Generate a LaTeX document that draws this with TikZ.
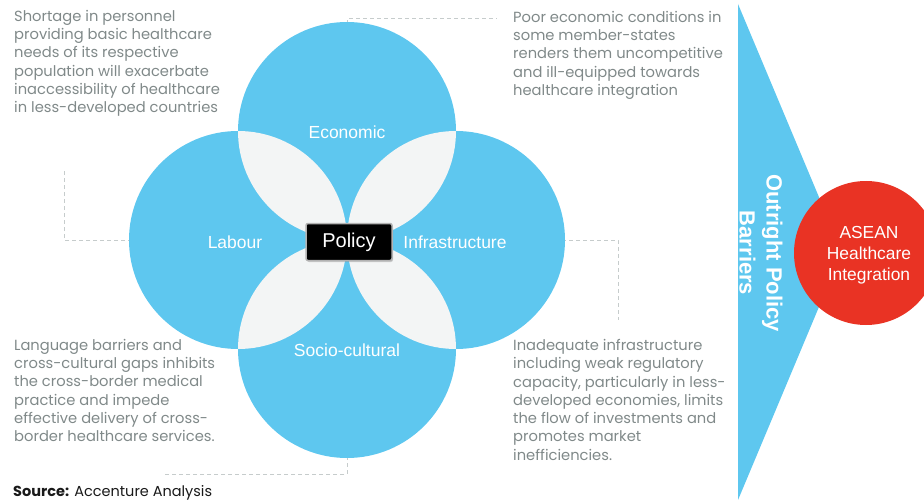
\documentclass[tikz,border=0pt]{standalone}
\usepackage{fontspec}
\setmainfont{Liberation Sans}
\newfontfamily\bodyfont{Poppins}
\usetikzlibrary{shadows}

\definecolor{petal}{RGB}{94,199,239}
\definecolor{lens}{RGB}{243,245,245}
\definecolor{goalred}{RGB}{233,51,36}
\definecolor{notegray}{RGB}{128,137,137}
\definecolor{dashgray}{RGB}{198,204,204}

\tikzset{
  note/.style={anchor=north west, inner sep=0pt, align=left, text=notegray,
    font=\bodyfont\fontsize{14.7}{18.3}\selectfont},
  petallabel/.style={text=white, font=\fontsize{17.5}{20}\selectfont},
  leader/.style={draw=dashgray, dashed, dash pattern=on 4pt off 3pt, line width=1pt},
  policybox/.style={fill=black, draw=gray!60, line width=1.5pt, rounded corners=2pt,
    minimum width=86pt, minimum height=37pt, text=white,
    font=\fontsize{20}{24}\selectfont, drop shadow={opacity=0.35, shadow xshift=1pt, shadow yshift=-1.5pt}},
}

\begin{document}
\begin{tikzpicture}[x=1pt, y=-1pt]
\useasboundingbox (0,0) rectangle (924,500);
\clip (0,0) rectangle (924,500);

% circle centres
\coordinate (cE) at (347,131);
\coordinate (cL) at (238,240);
\coordinate (cI) at (456,240);
\coordinate (cS) at (347,349);

% dashed leaders from each circle to its note
\coordinate (tE1) at (347,19);
\coordinate (tE2) at (497,19);
\coordinate (tL1) at (64,240);
\coordinate (tL2) at (64,171);
\coordinate (tI1) at (618,240);
\coordinate (tI2) at (618,320);
\coordinate (tS1) at (347,474);
\coordinate (tS2) at (163,474);
\draw[leader] (347,24) -- (tE1) -- (tE2);
\draw[leader] (132,240) -- (tL1) -- (tL2);
\draw[leader] (562,240) -- (tI1) -- (tI2);
\draw[leader] (347,456) -- (tS1) -- (tS2);

% the four circles
\foreach \c in {cE,cL,cI,cS}
  \fill[petal] (\c) circle[radius=109pt];

% light lenses where neighbouring circles overlap
\foreach \a/\b in {cE/cL, cE/cI, cS/cL, cS/cI}{
  \begin{scope}
    \clip (\a) circle[radius=109pt];
    \fill[lens] (\b) circle[radius=109pt];
  \end{scope}
}

% circle labels
\node[petallabel] (lE) at (347,132) {Economic};
\node[petallabel] (lL) at (235,242) {Labour};
\node[petallabel] (lI) at (455,242) {Infrastructure};
\node[petallabel] (lS) at (347,350) {Socio-cultural};

% centre box
\node[policybox] (policy) at (349,242) {Policy};

% arrow-shaped banner and goal circle
\fill[petal] (738,4) -- (842,252) -- (738,500) -- cycle;
\node[rotate=-90, align=center, text=white, font=\bfseries\fontsize{22}{27}\selectfont]
  (barriers) at (761,253) {Outright Policy\\Barriers};
\node[circle, fill=goalred, minimum size=144pt, inner sep=0pt] (goal) at (866,253) {};
\node[align=center, text=white, font=\fontsize{17.4}{21}\selectfont] (goaltext)
  at (869,255) {ASEAN\\Healthcare\\Integration};

% notes
\node[note] (nL) at (14,10) {Shortage in personnel\\providing basic healthcare\\needs of its respective\\population will exacerbate\\inaccessibility of healthcare\\in less-developed countries};
\node[note] (nE) at (513,11) {Poor economic conditions in\\some member-states\\renders them uncompetitive\\and ill-equipped towards\\healthcare integration};
\node[note] (nS) at (14,339) {Language barriers and\\cross-cultural gaps inhibits\\the cross-border medical\\practice and impede\\effective delivery of cross-\\border healthcare services.};
\node[note] (nI) at (513,339) {Inadequate infrastructure\\including weak regulatory\\capacity, particularly in less-\\developed economies, limits\\the flow of investments and\\promotes market\\inefficiencies.};

% source line
\node[anchor=base west, inner sep=0pt, text=black!90, font=\bodyfont\fontsize{14.5}{17}\selectfont]
  (src) at (13,496) {\textbf{Source:} Accenture Analysis};
\end{tikzpicture}
\end{document}
